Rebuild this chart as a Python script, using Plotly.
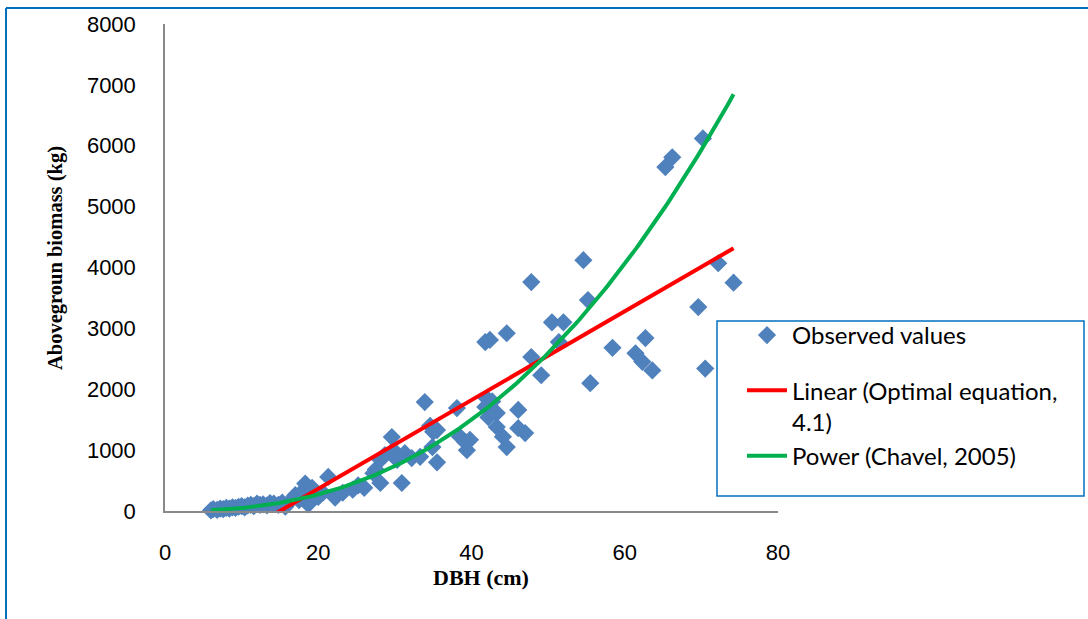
import numpy as np
import plotly.graph_objects as go

# Observed trees: diameter at breast height (cm) and aboveground biomass (kg)
dbh = [6.0, 6.3, 6.8, 7.2, 7.6, 8.0, 8.4, 8.8, 9.2, 9.6, 10.0, 10.4, 10.8, 11.2,
       11.6, 12.0, 12.4, 12.8, 13.3, 13.7, 14.2, 14.8, 15.3, 15.7, 16.3, 17.0,
       17.5, 18.0, 18.3, 18.7, 19.2, 20.0, 20.6, 21.3, 22.2, 23.2, 24.5, 25.2,
       26.0, 27.2, 27.5, 28.1, 28.1, 28.7, 29.6, 29.8, 30.3, 30.9, 31.3, 32.2,
       33.3, 33.9, 34.6, 34.9, 35.0, 35.5, 35.5, 38.1, 38.5, 39.2, 39.4, 39.8,
       41.8, 42.4, 44.6, 41.8, 42.0, 42.2, 42.7, 43.3, 43.3, 44.1, 44.6, 46.1,
       46.1, 47.0, 47.8, 47.8, 49.1, 50.5, 51.4, 52.0, 54.6, 55.2, 55.5, 58.4,
       61.4, 62.3, 62.7, 63.6, 65.3, 66.2, 69.6, 70.2, 70.5, 72.2, 74.2]
biomass = [10, 30, 20, 40, 30, 50, 40, 60, 50, 70, 80, 60, 90, 100,
           80, 120, 100, 110, 90, 130, 120, 100, 140, 70, 160, 260,
           180, 330, 450, 110, 380, 230, 300, 560, 220, 300, 350, 420,
           380, 620, 680, 460, 840, 920, 1215, 1000, 840, 460, 950, 870,
           890, 1790, 1400, 1050, 1300, 1330, 800, 1690, 1220, 1130, 1000, 1170,
           2775, 2810, 2920, 1710, 1850, 1540, 1800, 1610, 1380, 1220, 1050, 1660,
           1360, 1280, 3760, 2530, 2230, 3100, 2775, 3100, 4120, 3465, 2100, 2680,
           2590, 2450, 2840, 2310, 5650, 5810, 3350, 6120, 2340, 4070, 3750]

# Fitted models
lin_slope, lin_intercept = 72.9, -1093.0      # Linear (Optimal equation, 4.1)
pow_coef, pow_exp = 0.1715, 2.46              # Power (Chavel, 2005)

x_fit = np.linspace(min(dbh), max(dbh), 200)
y_lin = lin_slope * x_fit + lin_intercept
y_pow = pow_coef * x_fit ** pow_exp

# Page geometry (pixels) of the plotting area
W, H = 1088, 619
L, R, T, B = 165, 778, 24, 511


def px(x):
    return (x - L) / (R - L)


def py(y):
    return (B - y) / (B - T)


fig = go.Figure()
fig.add_trace(go.Scatter(
    x=dbh, y=biomass, mode="markers", name="Observed values",
    marker=dict(symbol="diamond", size=14, color="#4F81BD", line=dict(width=0)),
    cliponaxis=False, legendgroup="obs",
))
fig.add_trace(go.Scatter(
    x=x_fit, y=y_lin, mode="lines", name="Linear (Optimal equation,<br>4.1)",
    line=dict(color="#FF0000", width=4), legendgroup="fit",
))
fig.add_trace(go.Scatter(
    x=x_fit, y=y_pow, mode="lines", name="Power (Chavel, 2005)",
    line=dict(color="#00B050", width=4), legendgroup="fit",
))

axis_line = dict(showline=True, linecolor="#898989", linewidth=1.5,
                 showgrid=False, zeroline=False, ticks="",
                 tickfont=dict(family="Liberation Sans", size=22, color="#000000"))

fig.update_xaxes(range=[0, 80], dtick=20, tick0=0, ticklabelstandoff=21, **axis_line)
fig.update_yaxes(range=[0, 8000], dtick=1000, tick0=0, ticklabelstandoff=23, **axis_line)

fig.add_annotation(text="<b>DBH (cm)</b>", xref="paper", yref="paper",
                   x=px(481), y=py(577), showarrow=False,
                   font=dict(family="Liberation Serif", size=22, color="#000000"),
                   xanchor="center", yanchor="middle")
fig.add_annotation(text="<b>Abovegroun biomass (kg)</b>", xref="paper", yref="paper",
                   x=px(55), y=py(258), showarrow=False,
                   font=dict(family="Liberation Serif", size=20.5, color="#000000"),
                   textangle=-90, xanchor="center", yanchor="middle")

# Frame around the figure and the legend box
frame = dict(color="#0070C0", width=2)
fig.add_shape(type="line", xref="paper", yref="paper",
              x0=px(6), y0=py(8), x1=px(W + 5), y1=py(8), line=frame)
fig.add_shape(type="line", xref="paper", yref="paper",
              x0=px(6), y0=py(8), x1=px(6), y1=py(H + 5), line=frame)
fig.add_shape(type="rect", xref="paper", yref="paper",
              x0=px(717), y0=py(321), x1=px(1084), y1=py(496),
              line=dict(color="#0070C0", width=1.5), fillcolor="rgba(0,0,0,0)")

fig.update_layout(
    width=W, height=H,
    margin=dict(l=L, r=W - R, t=T, b=H - B, autoexpand=False),
    paper_bgcolor="#FFFFFF", plot_bgcolor="#FFFFFF",
    showlegend=True,
    legend=dict(x=px(742), y=py(313), xanchor="left", yanchor="top",
                bgcolor="rgba(0,0,0,0)", borderwidth=0,
                font=dict(family="Lato", size=24, color="#000000"),
                tracegroupgap=21, itemwidth=40, valign="top",
                traceorder="grouped"),
)

fig.write_html("out.html")
